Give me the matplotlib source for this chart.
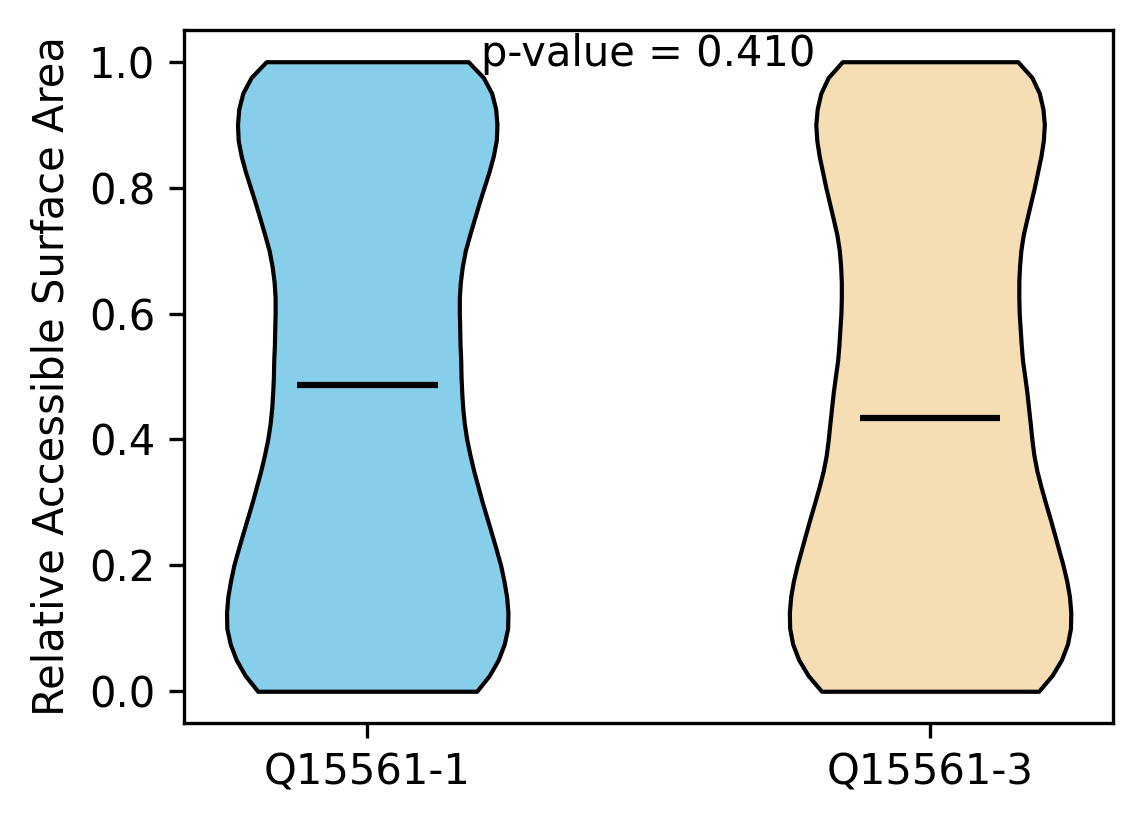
#!/usr/bin/env python3
"""
Violin plot of relative accessible surface area for two isoforms
"""

import matplotlib
matplotlib.use('Agg')
import matplotlib.pyplot as plt

# Isoform names and colours
isoforms = ['Q15561-1', 'Q15561-3']
colors = ['skyblue', 'wheat']

rsa_levels = [0.0, 0.025, 0.05, 0.075, 0.1, 0.125, 0.15, 0.175, 0.2, 0.225,
              0.25, 0.275, 0.3, 0.325, 0.35, 0.375, 0.4, 0.425, 0.45, 0.475,
              0.5, 0.525, 0.55, 0.575, 0.6, 0.625, 0.65, 0.675, 0.7, 0.725,
              0.75, 0.775, 0.8, 0.825, 0.85, 0.875, 0.9, 0.925, 0.95, 0.975,
              1.0]

# Relative density (violin half-width) at each level
density_1 = [109.7, 122.3, 131.3, 137.3, 140.7, 141.0, 139.7, 137.0, 133.7, 129.3,
             124.7, 120.0, 115.3, 111.0, 106.7, 103.0, 99.7, 97.3, 95.7, 94.7,
             94.0, 93.7, 93.0, 92.7, 92.3, 92.3, 93.3, 95.3, 98.3, 102.7,
             107.3, 112.0, 117.0, 122.0, 126.3, 129.3, 130.0, 128.7, 124.7, 116.3,
             101.2]
density_2 = [108.0, 121.3, 130.7, 136.7, 139.7, 140.0, 138.7, 136.0, 132.3, 128.0,
             123.7, 119.3, 114.7, 110.3, 106.3, 103.3, 101.3, 99.7, 98.0, 96.3,
             94.2, 92.0, 90.7, 89.7, 88.7, 88.3, 88.3, 89.0, 90.3, 92.7,
             96.3, 100.0, 103.7, 107.0, 110.3, 112.7, 113.7, 112.3, 108.7, 101.3,
             87.3]

# Summary statistics
means = [0.4865, 0.4345]
p_value = 0.410


def render_rsa_violins():
    """Draw both violins with mean lines and the p-value label"""
    fig = plt.figure(figsize=(1144 / 300, 824 / 300), dpi=300)
    ax = fig.add_axes([0.1611, 0.1229, 0.8118, 0.8404])

    vpstats = []
    for vals, mean in [(density_1, means[0]), (density_2, means[1])]:
        vpstats.append({
            'coords': rsa_levels,
            'vals': vals,
            'mean': mean,
            'median': mean,
            'min': min(rsa_levels),
            'max': max(rsa_levels),
        })

    parts = ax.violin(vpstats, positions=[1, 2], widths=0.5,
                      showmeans=True, showextrema=False, showmedians=False)

    for body, color in zip(parts['bodies'], colors):
        body.set_facecolor(color)
        body.set_edgecolor('black')
        body.set_linewidth(1.0)
        body.set_alpha(1)

    parts['cmeans'].set_color('black')
    parts['cmeans'].set_linewidth(1.5)

    ax.set_xticks([1, 2], isoforms)
    ax.set_ylabel('Relative Accessible Surface Area')
    ax.set_yticks([0.0, 0.2, 0.4, 0.6, 0.8, 1.0])

    ax.text(1.5, 0.9925, f'p-value = {p_value:.3f}', ha='center', va='baseline')

    return fig


def main():
    fig = render_rsa_violins()
    fig.savefig('out.png', dpi=300)
    plt.close(fig)
    print('Generated diagram: out.png')


if __name__ == "__main__":
    main()
